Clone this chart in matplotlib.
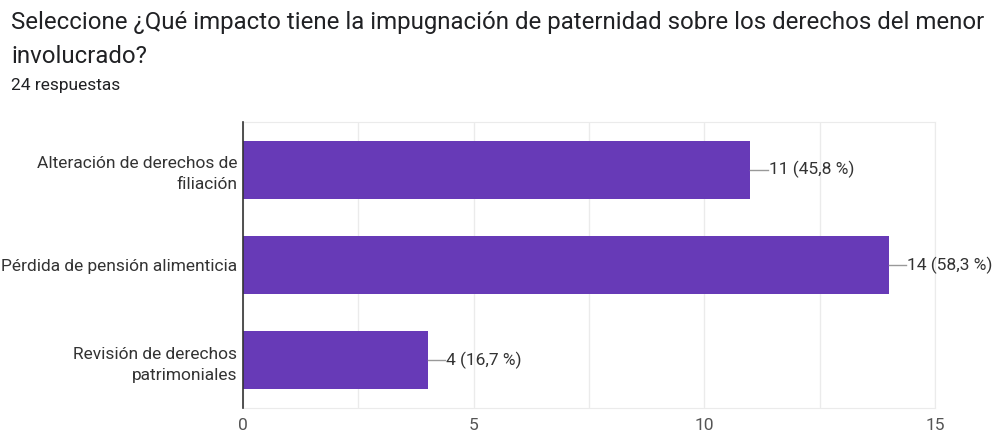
import matplotlib.pyplot as plt

categorias = ['Alteración de derechos de\nfiliación',
              'Pérdida de pensión alimenticia',
              'Revisión de derechos\npatrimoniales']
respuestas = [11, 14, 4]
porcentajes = ['45,8', '58,3', '16,7']
total = 24

plt.rcParams['font.family'] = ['Roboto', 'DejaVu Sans']

fig = plt.figure(figsize=(9.98, 4.34), dpi=100)
ax = fig.add_axes([0.2435, 0.0599, 0.6934, 0.659])

y = list(range(len(categorias)))
ax.barh(y, respuestas, height=0.61, color='#673ab7', zorder=3)

for yi, v, p in zip(y, respuestas, porcentajes):
    ax.plot([v, v + 0.38], [yi, yi], color='#999999', lw=1, zorder=3)
    ax.text(v + 0.4, yi, f'{v} ({p} %)', va='center', ha='left',
            fontsize=12.5, color='#333333')

ax.set_xlim(0, 15)
ax.set_ylim(2.5, -0.5)
ax.set_yticks(y)
ax.set_yticklabels(categorias, fontsize=12.5, color='#333333', linespacing=1.5)
ax.set_xticks([0, 5, 10, 15])
ax.set_xticks([2.5, 7.5, 12.5], minor=True)
ax.tick_params(axis='x', labelsize=12.5, colors='#555555', length=0, pad=7, which='both')
ax.tick_params(axis='y', length=0, pad=4)
ax.grid(axis='x', which='both', color='#ebebeb', lw=1, zorder=0)

for s in ['top', 'right', 'bottom']:
    ax.spines[s].set_color('#ebebeb')
ax.spines['left'].set_color('#333333')
ax.spines['left'].set_linewidth(1.2)
ax.spines['left'].set_zorder(4)

fig.text(0.011, 0.949, 'Seleccione ¿Qué impacto tiene la impugnación de paternidad sobre los derechos del menor',
         fontsize=17.3, color='#202124', va='center', ha='left')
fig.text(0.011, 0.869, 'involucrado?',
         fontsize=17.3, color='#202124', va='center', ha='left')
fig.text(0.011, 0.804, f'{total} respuestas', fontsize=12.5, color='#202124', va='center', ha='left')

fig.savefig('out.png', dpi=100)
